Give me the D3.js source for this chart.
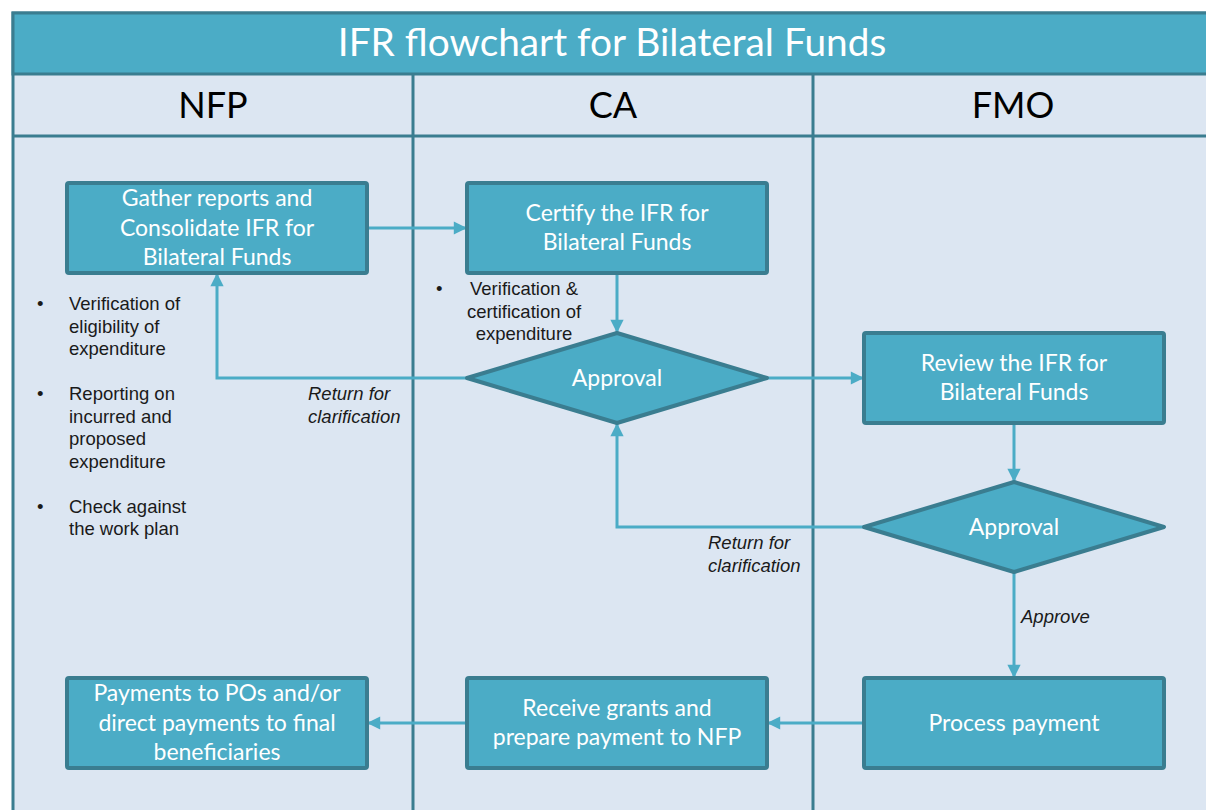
<!DOCTYPE html>
<html lang="en">

<head>
   <meta charset="UTF-8">
   <title>IFR flowchart for Bilateral Funds</title>
   <script src="https://d3js.org/d3.v7.min.js"></script>
   <style>
      body {
         margin: 0;
         background: #fff;
      }

      .step text {
         fill: #fff;
         font-family: Lato, 'Open Sans', sans-serif;
         font-size: 23px;
      }

      .lane-title {
         fill: #000;
         font-family: Lato, 'Open Sans', sans-serif;
         font-size: 36px;
      }

      .note,
      .edge-label {
         fill: #1a1a1a;
         font-family: 'Liberation Sans', Arial, sans-serif;
         font-size: 18.5px;
      }

      .edge-label {
         font-style: italic;
      }
   </style>
</head>

<body>
   <script>
      const chartTitle = 'IFR flowchart for Bilateral Funds';
      const lanes = ['NFP', 'CA', 'FMO'];
      const levels = ['prepare', 'check', 'decide', 'pay'];

      const steps = [
         { id: 'gather', lane: 'NFP', level: 'prepare', shape: 'box', lines: ['Gather reports and', 'Consolidate IFR for', 'Bilateral Funds'] },
         { id: 'certify', lane: 'CA', level: 'prepare', shape: 'box', lines: ['Certify the IFR for', 'Bilateral Funds'] },
         { id: 'approveCA', lane: 'CA', level: 'check', shape: 'diamond', lines: ['Approval'] },
         { id: 'review', lane: 'FMO', level: 'check', shape: 'box', lines: ['Review  the IFR for', 'Bilateral Funds'] },
         { id: 'approveFMO', lane: 'FMO', level: 'decide', shape: 'diamond', lines: ['Approval'] },
         { id: 'process', lane: 'FMO', level: 'pay', shape: 'box', lines: ['Process payment'] },
         { id: 'receive', lane: 'CA', level: 'pay', shape: 'box', lines: ['Receive grants and', 'prepare payment to NFP'] },
         { id: 'payout', lane: 'NFP', level: 'pay', shape: 'box', lines: ['Payments to POs and/or', 'direct payments to final', 'beneficiaries'] },
      ];

      const links = [
         { from: 'gather', out: 'right', to: 'certify', in: 'left', label: null },
         { from: 'certify', out: 'bottom', to: 'approveCA', in: 'top', label: null },
         { from: 'approveCA', out: 'left', to: 'gather', in: 'bottom', label: ['Return for', 'clarification'] },
         { from: 'approveCA', out: 'right', to: 'review', in: 'left', label: null },
         { from: 'review', out: 'bottom', to: 'approveFMO', in: 'top', label: null },
         { from: 'approveFMO', out: 'left', to: 'approveCA', in: 'bottom', label: ['Return for', 'clarification'] },
         { from: 'approveFMO', out: 'bottom', to: 'process', in: 'top', label: ['Approve'] },
         { from: 'process', out: 'left', to: 'receive', in: 'right', label: null },
         { from: 'receive', out: 'left', to: 'payout', in: 'right', label: null },
      ];

      const laneNotes = [
         { lane: 'NFP', items: [['Verification of', 'eligibility of', 'expenditure'], ['Reporting  on', 'incurred and', 'proposed', 'expenditure'], ['Check against', 'the work plan']] },
         { lane: 'CA', items: [['Verification &', 'certification of', 'expenditure']] },
      ];

      const width = 1206;
      const height = 810;
      const frame = { left: 13, top: 13, titleH: 61, headH: 62 };
      const boxW = 300, boxH = 90;
      const fill = '#4bacc6', edgeStroke = '#3a7d90', bg = '#dce6f2';

      const svg = d3.select('body').append('svg').attr('width', width).attr('height', height);

      const x = d3.scaleBand()
         .domain(lanes)
         .range([frame.left, frame.left + 1200]);

      const y = d3.scaleOrdinal()
         .domain(levels)
         .range([228, 378, 527, 723]);

      const headTop = frame.top + frame.titleH;
      const bodyTop = headTop + frame.headH;

      // lanes background and frame
      svg.append('rect')
         .attr('x', frame.left).attr('y', frame.top)
         .attr('width', width + 20).attr('height', height + 20)
         .attr('fill', bg).attr('stroke', edgeStroke).attr('stroke-width', 3);

      svg.append('rect')
         .attr('x', frame.left).attr('y', frame.top)
         .attr('width', width + 20).attr('height', frame.titleH)
         .attr('fill', fill).attr('stroke', edgeStroke).attr('stroke-width', 3);

      svg.append('text')
         .attr('x', 612).attr('y', frame.top + frame.titleH / 2 + 3)
         .attr('text-anchor', 'middle').attr('dominant-baseline', 'middle')
         .attr('fill', '#fff')
         .attr('font-family', "Lato, 'Open Sans', sans-serif")
         .attr('font-size', 38.8)
         .text(chartTitle);

      svg.append('line')
         .attr('x1', frame.left).attr('x2', width + 10)
         .attr('y1', bodyTop).attr('y2', bodyTop)
         .attr('stroke', edgeStroke).attr('stroke-width', 3);

      svg.selectAll('.lane-line')
         .data(lanes.slice(1))
         .join('line')
         .attr('class', 'lane-line')
         .attr('x1', d => x(d)).attr('x2', d => x(d))
         .attr('y1', headTop).attr('y2', height + 10)
         .attr('stroke', edgeStroke).attr('stroke-width', 3);

      svg.selectAll('.lane-title')
         .data(lanes)
         .join('text')
         .attr('class', 'lane-title')
         .attr('x', d => x(d) + x.bandwidth() / 2)
         .attr('y', headTop + frame.headH / 2 + 4)
         .attr('text-anchor', 'middle').attr('dominant-baseline', 'middle')
         .text(d => d);

      // step geometry
      const byId = new Map(steps.map(d => [d.id, d]));
      const cx = d => x(d.lane) + x.bandwidth() / 2 + (d.lane === 'FMO' ? 1 : 4);
      const cy = d => y(d.level);
      function port(d, side) {
         if (side === 'left') return [cx(d) - boxW / 2, cy(d)];
         if (side === 'right') return [cx(d) + boxW / 2, cy(d)];
         if (side === 'top') return [cx(d), cy(d) - boxH / 2];
         return [cx(d), cy(d) + boxH / 2];
      }

      // arrowhead
      svg.append('defs').append('marker')
         .attr('id', 'head')
         .attr('viewBox', '0 0 10 10')
         .attr('refX', 10).attr('refY', 5)
         .attr('markerWidth', 5).attr('markerHeight', 4.4)
         .attr('markerUnits', 'strokeWidth')
         .attr('orient', 'auto')
         .append('path').attr('d', 'M0,0L10,5L0,10Z').attr('fill', fill);

      const linkG = svg.append('g');
      links.forEach(l => {
         const s = byId.get(l.from), t = byId.get(l.to);
         const p0 = port(s, l.out), p1 = port(t, l.in);
         const pts = [p0];
         const horizOut = l.out === 'left' || l.out === 'right';
         const horizIn = l.in === 'left' || l.in === 'right';
         if (horizOut && !horizIn) pts.push([p1[0], p0[1]]);
         pts.push(p1);
         linkG.append('path')
            .attr('d', d3.line()(pts))
            .attr('fill', 'none')
            .attr('stroke', fill)
            .attr('stroke-width', 3)
            .attr('marker-end', 'url(#head)');

         if (l.label) {
            const lab = linkG.append('text').attr('class', 'edge-label');
            if (horizOut) {
               // below the horizontal run, just left of the lane line it crosses
               const laneEdge = x(s.lane);
               lab.attr('x', laneEdge - 105).attr('y', p0[1] + 22);
               lab.selectAll('tspan').data(l.label).join('tspan')
                  .attr('x', laneEdge - 105)
                  .attr('dy', (d, i) => i ? 22.5 : 0)
                  .text(d => d);
            } else {
               lab.attr('x', p0[0] + 7).attr('y', (p0[1] + p1[1]) / 2 - 2).text(l.label[0]);
            }
         }
      });

      // steps
      const stepG = svg.selectAll('.step')
         .data(steps)
         .join('g')
         .attr('class', 'step')
         .attr('transform', d => `translate(${cx(d)},${cy(d)})`);

      stepG.filter(d => d.shape === 'box').append('rect')
         .attr('x', -boxW / 2).attr('y', -boxH / 2)
         .attr('width', boxW).attr('height', boxH)
         .attr('rx', 2)
         .attr('fill', fill).attr('stroke', edgeStroke).attr('stroke-width', 4);

      stepG.filter(d => d.shape === 'diamond').append('path')
         .attr('d', `M${-boxW / 2},0L0,${-boxH / 2}L${boxW / 2},0L0,${boxH / 2}Z`)
         .attr('fill', fill).attr('stroke', edgeStroke).attr('stroke-width', 4)
         .attr('stroke-linejoin', 'round');

      stepG.append('text')
         .attr('text-anchor', 'middle')
         .selectAll('tspan')
         .data(d => d.lines.map((t, i) => ({ t, i, n: d.lines.length })))
         .join('tspan')
         .attr('x', 0)
         .attr('y', d => (d.i - (d.n - 1) / 2) * 29.5 + 7.5)
         .text(d => d.t);

      // bullet notes
      const lineH = 22.5;
      const nfp = laneNotes.find(d => d.lane === 'NFP');
      let row = 0;
      const nfpG = svg.append('g').attr('class', 'note');
      nfp.items.forEach(item => {
         nfpG.append('text').attr('x', 37).attr('y', 310 + row * lineH).text('•');
         item.forEach((t, i) => {
            nfpG.append('text').attr('x', 69).attr('y', 310 + (row + i) * lineH).text(t);
         });
         row += item.length + 1;
      });

      const ca = laneNotes.find(d => d.lane === 'CA');
      const caG = svg.append('g').attr('class', 'note');
      ca.items.forEach(item => {
         caG.append('text').attr('x', 436).attr('y', 295).text('•');
         item.forEach((t, i) => {
            caG.append('text').attr('x', 524).attr('y', 295 + i * lineH)
               .attr('text-anchor', 'middle').text(t);
         });
      });
   </script>
</body>

</html>
